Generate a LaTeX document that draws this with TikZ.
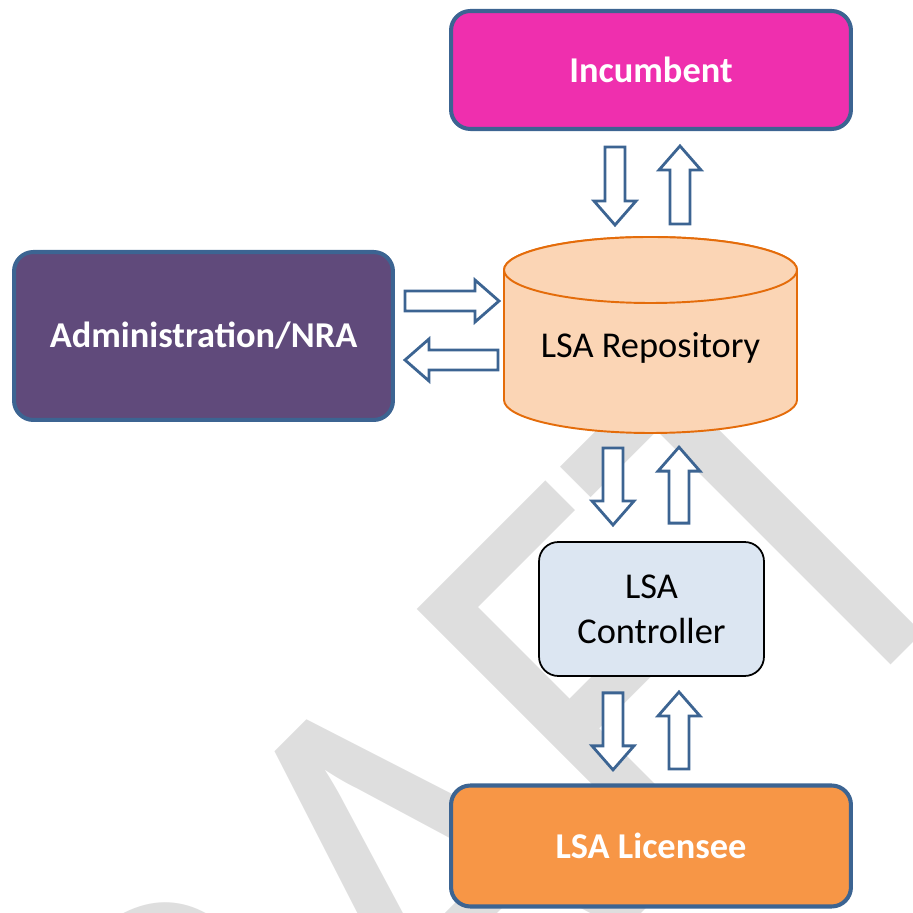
\documentclass[tikz,border=0pt]{standalone}
\usepackage{fontspec}
\setmainfont{Carlito}
\usetikzlibrary{calc}

\definecolor{edgeblue}{RGB}{60,100,146}
\definecolor{incfill}{RGB}{239,47,174}
\definecolor{adminfill}{RGB}{96,74,123}
\definecolor{repofill}{RGB}{251,213,181}
\definecolor{repoedge}{RGB}{228,108,10}
\definecolor{ctrlfill}{RGB}{220,230,242}
\definecolor{licfill}{RGB}{247,150,70}
\definecolor{wmgray}{RGB}{222,222,222}

\begin{document}
\begin{tikzpicture}[x=0.02cm, y=0.02cm,
	lbl/.style={font=\fontsize{20.7}{25.5}\selectfont},
	actor/.style={draw=edgeblue, line width=2.3pt, rounded corners=11pt, text=white, font=\fontsize{20.7}{25.5}\selectfont\bfseries},
	ctrlbox/.style={lbl, draw=black, line width=1pt, fill=ctrlfill, rounded corners=11pt, align=center},
	cyl/.style={draw=repoedge, line width=1.1pt, fill=repofill},
	flowline/.style={draw=edgeblue, fill=white, line width=1.6pt},
	pics/flow/.style={code={
		\path[flowline] (0,-10) -- (#1-24,-10) -- (#1-24,-21) -- (#1,0) -- (#1-24,21) -- (#1-24,10) -- (0,10) -- cycle;
	}}]
	\useasboundingbox (0,0) rectangle (913,913);
	
	\begin{scope}
		\clip (0,0) rectangle (913,913);
		\node[rotate=45, anchor=base west, inner sep=0, text=wmgray, font=\fontsize{285}{285}\selectfont] (wm) at (42.4,-600) {\scalebox{1}[1.163]{DRAFT}};
	\end{scope}
	
	\node[actor, fill=incfill, minimum width=8cm, minimum height=2.36cm] (inc) at (651,843) {Incumbent};
	\node[actor, fill=adminfill, minimum width=7.58cm, minimum height=3.36cm] (admin) at (203.5,577) {Administration/NRA};
	\node[ctrlbox, minimum width=4.5cm, minimum height=2.68cm] (ctrl) at (651.5,304) {LSA\\Controller};
	\node[actor, fill=licfill, minimum width=8cm, minimum height=2.42cm] (lic) at (651,67) {LSA Licensee};
	
	\coordinate (rc) at (650.5,565);
	\draw[cyl] ($(rc)+(-146.5,78)$) -- ($(rc)+(-146.5,-52)$) arc[start angle=180, end angle=360, x radius=146.5, y radius=33] -- ($(rc)+(146.5,78)$) arc[start angle=0, end angle=180, x radius=146.5, y radius=33] -- cycle;
	\draw[cyl] ($(rc)+(0,78)$) ellipse[x radius=146.5, y radius=33];
	\node[lbl] (repo) at (rc) {LSA Repository};
	
	\pic[rotate=-90] at ($(inc.south)+(-36,-16)$) {flow=78};
	\pic[rotate=90] at ($(repo)+(29.5,124)$) {flow=78};
	\pic[rotate=-90] at ($(repo)+(-37.5,-100)$) {flow=77};
	\pic[rotate=90] at ($(ctrl.north)+(27.5,18)$) {flow=76};
	\pic[rotate=-90] at ($(ctrl.south)+(-38.5,-16)$) {flow=77};
	\pic[rotate=90] at ($(lic.north)+(28,14.5)$) {flow=77};
	\pic at ($(admin.east)+(10,35)$) {flow=94};
	\pic[rotate=180] at ($(repo)+(-152.5,-12)$) {flow=93};
\end{tikzpicture}
\end{document}
